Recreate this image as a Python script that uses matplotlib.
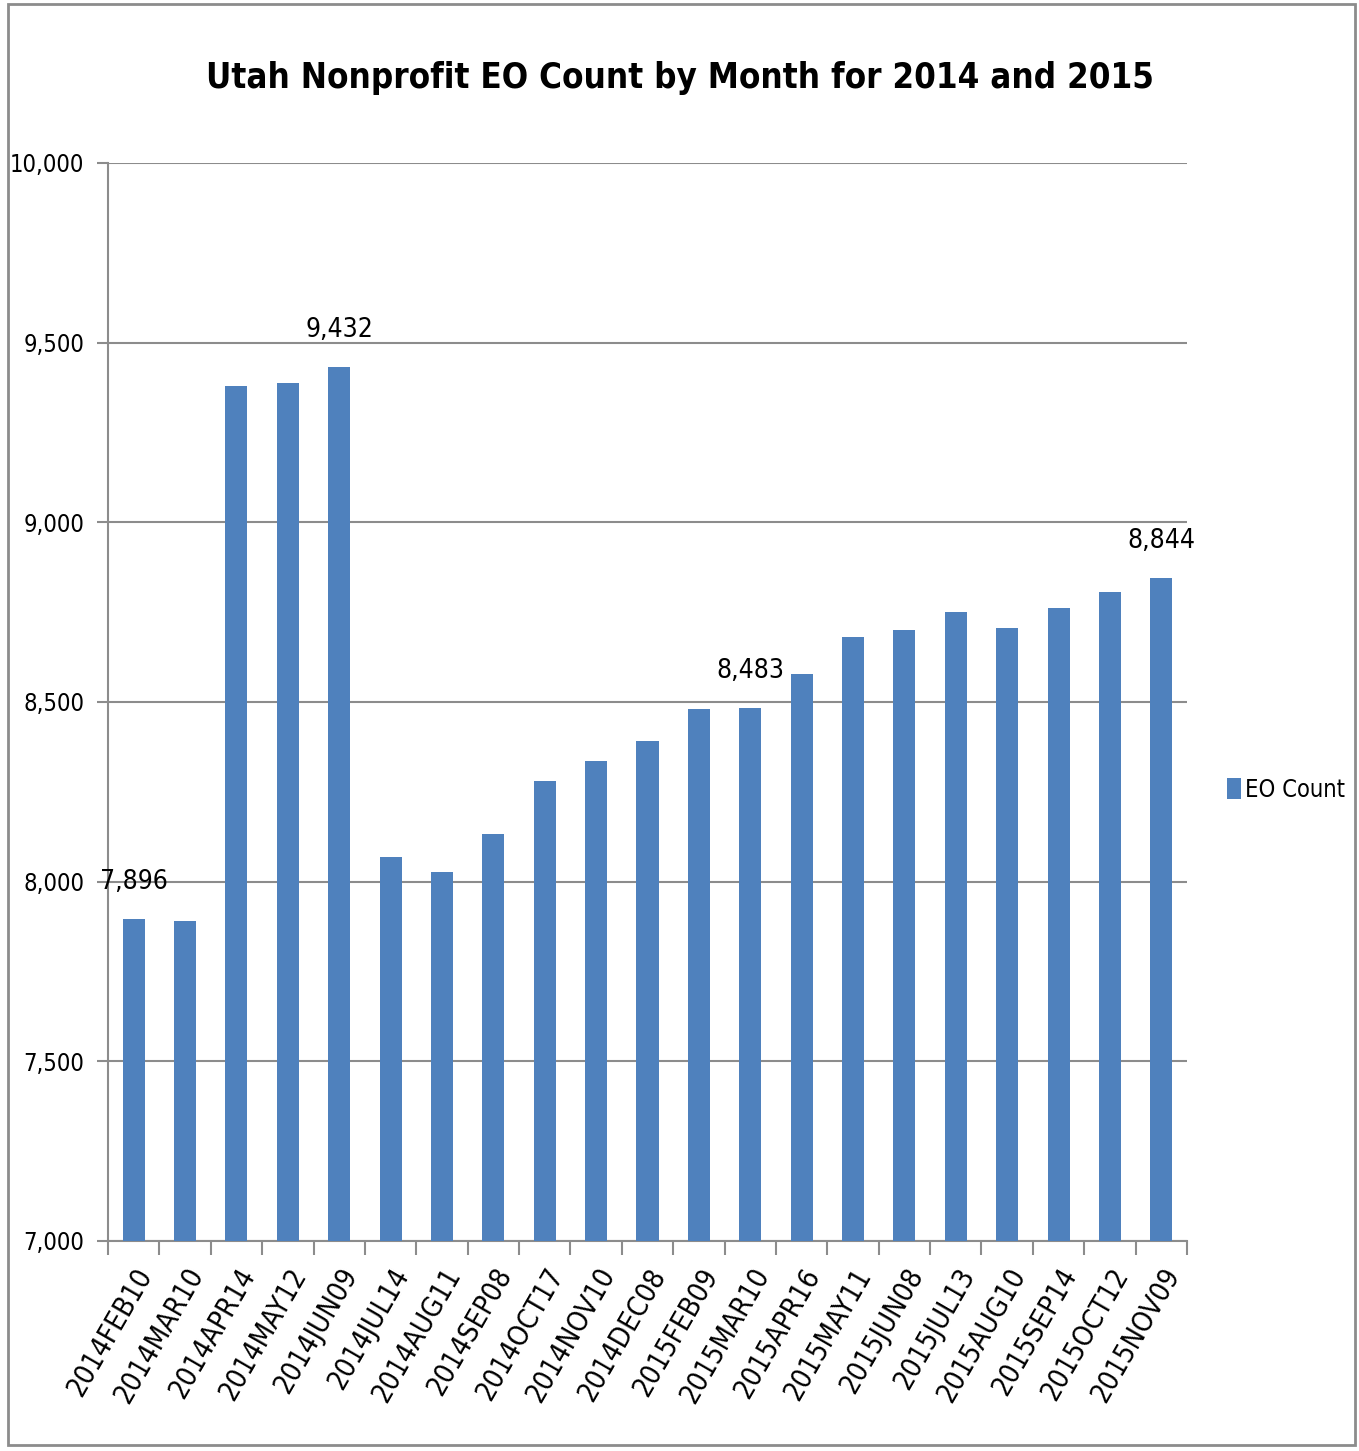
import matplotlib.pyplot as plt
from matplotlib.patches import Rectangle
from matplotlib.ticker import FuncFormatter, FixedLocator

plt.rcParams['font.family'] = ['DejaVu Sans']
plt.rcParams['font.stretch'] = 'condensed'

months = ["2014FEB10", "2014MAR10", "2014APR14", "2014MAY12", "2014JUN09",
          "2014JUL14", "2014AUG11", "2014SEP08", "2014OCT17", "2014NOV10",
          "2014DEC08", "2015FEB09", "2015MAR10", "2015APR16", "2015MAY11",
          "2015JUN08", "2015JUL13", "2015AUG10", "2015SEP14", "2015OCT12",
          "2015NOV09"]
eo_count = [7896, 7891, 9380, 9388, 9432,
            8069, 8027, 8133, 8280, 8336,
            8392, 8481, 8483, 8578, 8681,
            8700, 8751, 8706, 8762, 8806,
            8844]
labelled = ["2014FEB10", "2014JUN09", "2015MAR10", "2015NOV09"]

bar_color = '#4F81BD'
grid_color = '#8C8C8C'

fig = plt.figure(figsize=(13.59, 14.51), dpi=100)
ax = fig.add_axes([108 / 1359, 1 - 1241 / 1451, 1079 / 1359, 1078 / 1451])

x = list(range(len(months)))
ax.bar(x, eo_count, width=0.43, color=bar_color, zorder=3, label='EO Count')

ax.set_xlim(-0.5, len(months) - 0.5)
ax.set_ylim(7000, 10000)
ax.set_yticks(range(7000, 10001, 500))
ax.yaxis.set_major_formatter(FuncFormatter(lambda v, p: f"{int(v):,}"))
ax.grid(axis='y', color=grid_color, linewidth=1.5, zorder=0)

# category labels centred on bars, tick marks between bars
ax.set_xticks(x)
ax.set_xticklabels(months, rotation=60, ha='right', rotation_mode='anchor',
                   fontsize=20)
ax.tick_params(axis='x', which='major', length=0, pad=16)
ax.xaxis.set_minor_locator(FixedLocator([i - 0.5 for i in range(len(months) + 1)]))
ax.tick_params(axis='x', which='minor', length=10, width=1.5, color=grid_color)
ax.tick_params(axis='y', length=8, width=1.5, color=grid_color, labelsize=17, pad=9)

for side in ['top', 'right']:
    ax.spines[side].set_visible(False)
ax.spines['left'].set_color(grid_color)
ax.spines['left'].set_linewidth(1.5)
ax.spines['bottom'].set_color(grid_color)
ax.spines['bottom'].set_linewidth(1.5)

for i, (m, v) in enumerate(zip(months, eo_count)):
    if m in labelled:
        ax.annotate(f"{v:,}", (i, v), xytext=(0, 27), textcoords='offset points',
                    ha='center', va='center', fontsize=19)

fig.text(0.5, 1 - 78 / 1451, "Utah Nonprofit EO Count by Month for 2014 and 2015",
         ha='center', va='center', fontsize=25, fontweight='bold')

fig.legend(loc='center left', bbox_to_anchor=(1210 / 1359, 1 - 790 / 1451),
           frameon=False, fontsize=17, handlelength=0.6, handleheight=1.0,
           handletextpad=0.2, borderpad=0.2)

fig.patches.append(Rectangle((8 / 1359, 6 / 1451), 1347 / 1359, 1441 / 1451,
                             transform=fig.transFigure, fill=False,
                             edgecolor='#8C8C8C', linewidth=2))

fig.savefig('out.png', dpi=100)
